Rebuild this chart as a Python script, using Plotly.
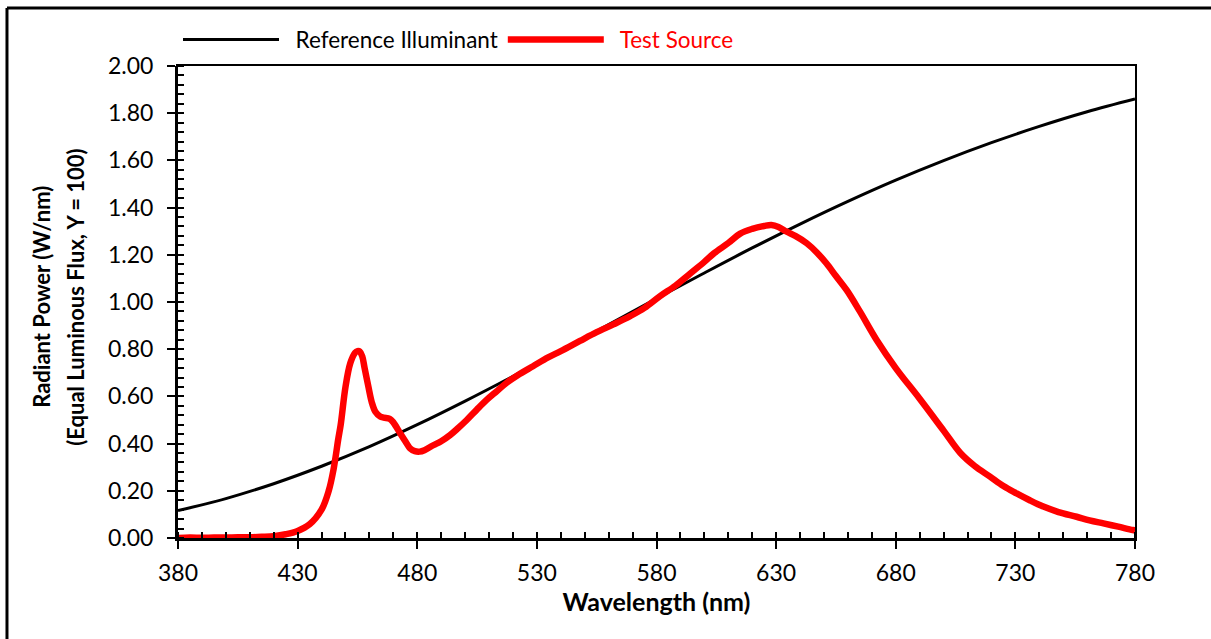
import plotly.graph_objects as go

# ---- data ----
ref_wl = [380, 400, 420, 440, 460, 480, 500, 520, 540, 560, 580, 600,
          620, 640, 660, 680, 700, 720, 740, 760, 780]
ref_val = [0.116, 0.167, 0.230, 0.304, 0.387, 0.480, 0.580, 0.685, 0.794, 0.904,
           1.015, 1.123, 1.229, 1.330, 1.426, 1.516, 1.599, 1.675, 1.744, 1.806, 1.860]

test_wl = [380, 385, 390, 395, 400, 405, 410, 415, 420, 425, 430, 435, 440, 443,
           445, 447, 448, 450, 452, 454, 455, 456, 457, 458, 459.6, 461, 462.5,
           464.5, 466, 468.5, 470, 472.8, 475, 477, 479, 481, 483, 486.7, 490,
           493.7, 497, 500.7, 505, 509, 513, 517.4, 522, 528.4, 534.7, 540, 548,
           555, 562, 569, 575, 581.5, 588, 594, 600, 604, 610, 615, 620, 625,
           628, 631, 634.4, 638, 642.8, 647, 651, 655, 659.5, 665, 672, 680,
           690, 700, 707, 713, 719.4, 725, 730.5, 736, 741.7, 748, 755.6, 761,
           766.8, 773, 779, 780]
test_val = [0.000, 0.002, 0.001, 0.002, 0.002, 0.003, 0.003, 0.005, 0.008, 0.016,
            0.030, 0.058, 0.120, 0.200, 0.290, 0.420, 0.480, 0.640, 0.740, 0.785,
            0.792, 0.790, 0.770, 0.720, 0.640, 0.575, 0.535, 0.515, 0.510, 0.505,
            0.490, 0.445, 0.410, 0.380, 0.368, 0.366, 0.372, 0.393, 0.410, 0.436,
            0.465, 0.500, 0.545, 0.585, 0.620, 0.658, 0.690, 0.728, 0.765, 0.792,
            0.835, 0.872, 0.905, 0.940, 0.975, 1.025, 1.070, 1.120, 1.170, 1.206,
            1.250, 1.290, 1.310, 1.322, 1.326, 1.318, 1.298, 1.280, 1.249, 1.210,
            1.164, 1.110, 1.050, 0.960, 0.839, 0.720, 0.590, 0.455, 0.360, 0.305,
            0.260, 0.220, 0.189, 0.160, 0.133, 0.110, 0.090, 0.075, 0.062, 0.048,
            0.034, 0.033]

x_ticks = [380, 430, 480, 530, 580, 630, 680, 730, 780]
y_ticks = [0.0, 0.2, 0.4, 0.6, 0.8, 1.0, 1.2, 1.4, 1.6, 1.8, 2.0]

FONT = "Lato"

fig = go.Figure()
fig.add_trace(go.Scatter(x=ref_wl, y=ref_val, mode="lines", name="  Reference Illuminant",
                         line=dict(color="black", width=3, shape="spline"),
                         cliponaxis=False))
fig.add_trace(go.Scatter(x=test_wl, y=test_val, mode="lines",
                         name="<span style='color:#ff0000'>  Test Source</span>",
                         line=dict(color="#ff0000", width=6.5, shape="spline"),
                         cliponaxis=False))
# invisible trace to drive overlay axes (inside major ticks & frame)
fig.add_trace(go.Scatter(x=[380], y=[0], xaxis="x2", yaxis="y2", mode="markers",
                         marker=dict(opacity=0), showlegend=False, hoverinfo="skip"))

fig.update_layout(
    width=1211, height=639, autosize=False,
    margin=dict(l=178, r=76, t=66, b=101),
    paper_bgcolor="white", plot_bgcolor="white",
    font=dict(family=FONT, size=23, color="black"),
    showlegend=True,
    legend=dict(orientation="h", x=0, xanchor="left", y=1.01, yanchor="bottom",
                font=dict(family=FONT, size=22.5), itemwidth=96,
                bgcolor="rgba(0,0,0,0)", tracegroupgap=0),
    xaxis=dict(range=[380, 780], tickvals=x_ticks, ticktext=[str(v) for v in x_ticks],
               ticks="outside", ticklen=8, tickwidth=2, tickcolor="black",
               showline=True, linewidth=3, linecolor="black", showgrid=False,
               zeroline=False, tickfont=dict(size=23), ticklabelstandoff=4,
               minor=dict(dtick=10, tick0=380, ticks="inside", ticklen=6, tickwidth=2,
                          tickcolor="black", showgrid=False),
               title=dict(text="<b>Wavelength (nm)</b>", font=dict(size=25), standoff=8)),
    yaxis=dict(range=[0, 2], tickvals=y_ticks, ticktext=[f"{v:.2f}" for v in y_ticks],
               ticks="outside", ticklen=8, tickwidth=2, tickcolor="black",
               showline=True, linewidth=3, linecolor="black", showgrid=False,
               zeroline=False, tickfont=dict(size=23), ticklabelstandoff=9,
               minor=dict(dtick=0.04, tick0=0, ticks="inside", ticklen=6, tickwidth=2,
                          tickcolor="black", showgrid=False)),
    xaxis2=dict(overlaying="x", range=[380, 780], tickvals=x_ticks, showticklabels=False,
                ticks="inside", ticklen=6, tickwidth=2, tickcolor="black",
                showline=True, mirror=True, linewidth=2, linecolor="black",
                showgrid=False, zeroline=False),
    yaxis2=dict(overlaying="y", range=[0, 2], tickvals=y_ticks, showticklabels=False,
                ticks="inside", ticklen=6, tickwidth=2, tickcolor="black",
                showline=True, mirror=True, linewidth=2, linecolor="black",
                showgrid=False, zeroline=False),
    annotations=[
        dict(text="<b>Radiant Power (W/nm)</b>", xref="paper", yref="paper",
             x=-0.1421, y=0.511, textangle=-90, showarrow=False,
             xanchor="center", yanchor="middle", font=dict(size=22)),
        dict(text="<b>(Equal Luminous Flux, Y = 100)</b>", xref="paper", yref="paper",
             x=-0.1066, y=0.511, textangle=-90, showarrow=False,
             xanchor="center", yanchor="middle", font=dict(size=22)),
    ],
    shapes=[
        dict(type="line", xref="paper", yref="paper", x0=-0.1787, x1=1.08,
             y0=1.1229, y1=1.1229, line=dict(color="black", width=3)),
        dict(type="line", xref="paper", yref="paper", x0=-0.1787, x1=-0.1787,
             y0=1.1229, y1=-0.22, line=dict(color="black", width=3)),
    ],
)

fig.write_html("out.html")
